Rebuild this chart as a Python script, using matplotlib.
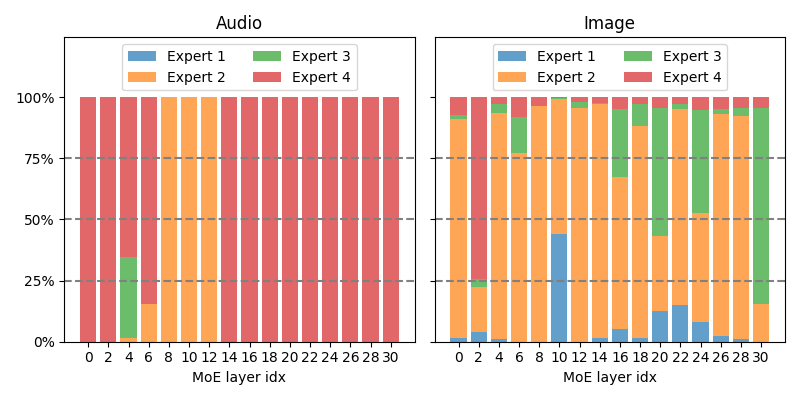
import matplotlib
matplotlib.use("Agg")
import matplotlib.pyplot as plt
import numpy as np
from matplotlib.ticker import PercentFormatter

layers = list(range(0, 32, 2))
experts = ["Expert 1", "Expert 2", "Expert 3", "Expert 4"]
colors = ["tab:blue", "tab:orange", "tab:green", "tab:red"]

# share (%) routed to each expert per layer
audio_e1 = [0, 0, 0.0, 0, 0, 0, 0, 0, 0, 0, 0, 0, 0, 0, 0, 0]
audio_e2 = [0, 0, 1.6, 15.6, 100, 100, 100, 0, 0, 0, 0, 0, 0, 0, 0, 0]
audio_e3 = [0, 0, 33.2, 0, 0, 0, 0, 0, 0, 0, 0, 0, 0, 0, 0, 0]
audio_e4 = [100, 100, 65.2, 84.4, 0, 0, 0, 100, 100, 100, 100, 100, 100, 100, 100, 100]

image_e1 = [1.6, 4.1, 1.2, 0, 0, 43.9, 0, 1.6, 5.3, 1.6, 12.7, 15.2, 8.2, 2.5, 1.2, 0]
image_e2 = [89.4, 18.4, 92.2, 77.0, 96.3, 55.3, 95.5, 95.5, 61.9, 86.5, 30.7, 79.9, 44.3, 90.5, 91.0, 15.6]
image_e3 = [1.7, 3.2, 3.7, 14.8, 0, 0.4, 2.5, 0.4, 27.9, 9.0, 52.1, 2.0, 42.2, 2.1, 3.3, 79.9]
image_e4 = [7.3, 74.3, 2.9, 8.2, 3.7, 0.4, 2.0, 2.5, 4.9, 2.9, 4.5, 2.9, 5.3, 4.9, 4.5, 4.5]

panels = [
    ("Audio", [audio_e1, audio_e2, audio_e3, audio_e4]),
    ("Image", [image_e1, image_e2, image_e3, image_e4]),
]

fig, axes = plt.subplots(1, 2, figsize=(8, 4), sharey=True)
x = np.arange(len(layers))

for ax, (title, series) in zip(axes, panels):
    bottom = np.zeros(len(layers))
    for name, vals, c in zip(experts, series, colors):
        vals = np.array(vals)
        ax.bar(x, vals, 0.8, bottom=bottom, label=name, color=c, alpha=0.7)
        bottom += vals
    for y in (25, 50, 75):
        ax.axhline(y, color="gray", linestyle="--", linewidth=1.5)
    ax.set_title(title)
    ax.set_xticks(x)
    ax.set_xticklabels([str(l) for l in layers])
    ax.set_xlabel("MoE layer idx")
    ax.set_ylim(0, 124.5)
    ax.set_yticks([0, 25, 50, 75, 100])
    ax.yaxis.set_major_formatter(PercentFormatter(decimals=0))
    ax.legend(loc="upper center", ncol=2)

plt.tight_layout()
plt.savefig("out.png", dpi=100)
